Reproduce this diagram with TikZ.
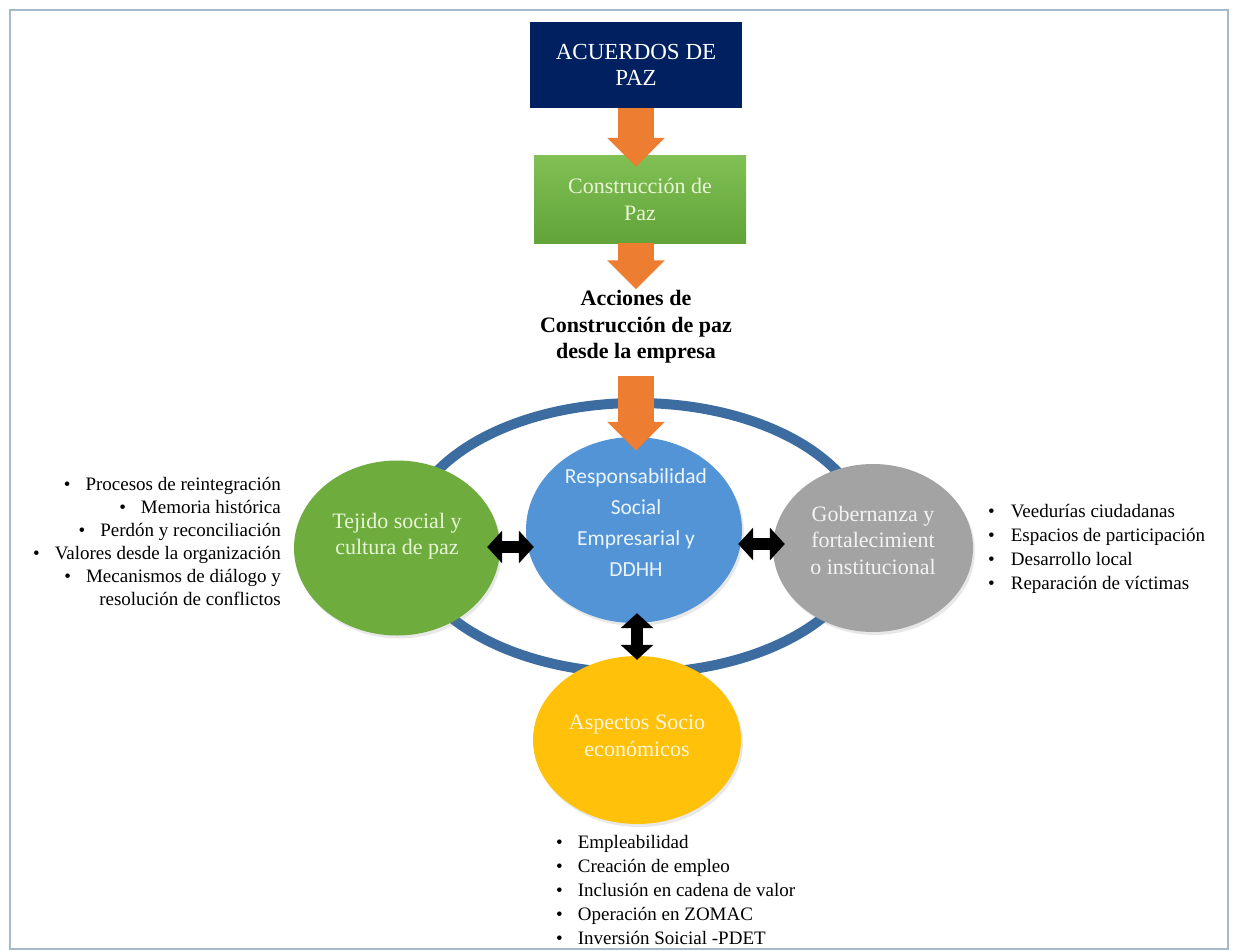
\documentclass[tikz,border=0pt]{standalone}
\usepackage{fontspec}
\setmainfont{Liberation Serif}
\newfontfamily\calib{Carlito}
\usetikzlibrary{shapes.geometric,arrows.meta,calc,shadows}
\definecolor{navy}{RGB}{0,32,96}
\definecolor{boxgreenA}{RGB}{128,192,84}
\definecolor{boxgreenB}{RGB}{98,163,58}
\definecolor{orangeA}{RGB}{237,125,49}
\definecolor{ringblue}{RGB}{60,108,160}
\definecolor{circblue}{RGB}{82,148,214}
\definecolor{circgreen}{RGB}{110,172,62}
\definecolor{circgrey}{RGB}{163,163,163}
\definecolor{circyellow}{RGB}{255,193,10}
\definecolor{framec}{RGB}{165,185,205}
\definecolor{lgtext}{RGB}{232,246,215}
\definecolor{bltext}{RGB}{236,244,253}
\definecolor{grtext}{RGB}{243,243,243}
\definecolor{yltext}{RGB}{255,246,222}
\begin{document}
\begin{tikzpicture}[x=1pt,y=-1pt,
  topbox/.style={rectangle,inner sep=0pt,minimum width=212pt},
  circ/.style={ellipse,inner sep=0pt,draw=none,
     drop shadow={opacity=0.18,shadow xshift=2pt,shadow yshift=-3pt}},
  ctext/.style={align=center,font=\fontsize{22}{26.5}\selectfont,inner sep=0pt},
  orangearrow/.style={draw=orangeA,line width=36pt,
     -{Triangle[length=29pt,width=56pt]}},
  dblarrow/.style={draw=black,line width=12pt,
     {Triangle[length=15pt,width=32pt]}-{Triangle[length=15pt,width=32pt]}},
  litem/.style={inner sep=0pt,font=\fontsize{19}{23}\selectfont}
]
\useasboundingbox (0,0) rectangle (1236,950);
\fill[white] (0,0) rectangle (1236,950);
\draw[framec,line width=1.6pt] (10,10) rectangle (1228,949);

% top boxes
\node[topbox,minimum height=86pt,fill=navy,text=white,align=center,
  font=\fontsize{23}{26}\selectfont] (acuerdos) at (636,65) {ACUERDOS DE\\PAZ};
\node[topbox,minimum height=88pt,top color=boxgreenA,bottom color=boxgreenB,
  text=lgtext,align=center,font=\fontsize{22}{27}\selectfont]
  (construccion) at (640,199) {Construcción de\\Paz};
\node[align=center,inner sep=0pt,font=\bfseries\fontsize{22}{26.5}\selectfont]
  (acciones) at (636,327) {Acciones de\\Construcción de paz\\desde la empresa};

% ring
\draw[ringblue,line width=10pt] (637,538) ellipse [x radius=230, y radius=135];

% circles
\node[circ,fill=circgreen,minimum width=206pt,minimum height=175pt] (tejido) at (397,548) {};
\node[circ,fill=circgrey,minimum width=200pt,minimum height=168pt] (gober) at (873,548) {};
\node[circ,fill=circyellow,minimum width=208pt,minimum height=168pt] (aspectos) at (637,740) {};
\node[circ,fill=circblue,minimum width=216pt,minimum height=186pt] (rse) at (634,530) {};

\node[ctext,text=lgtext] (tejidot) at (397,536) {Tejido social y\\cultura de paz};
\node[ctext,text=grtext] (gobert) at (873,540) {Gobernanza y\\fortalecimient\\o institucional};
\node[ctext,text=yltext] (aspectost) at (637,736) {Aspectos Socio\\económicos};
\node[align=center,inner sep=0pt,text=bltext,font=\calib\fontsize{21.5}{31}\selectfont]
  (rset) at (636,523) {Responsabilidad\\Social\\Empresarial y\\DDHH};

% double arrows
\draw[dblarrow] ($(tejido.east)+(-13,-1)$) -- ($(rse.west |- tejido.east)+(8,-1)$);
\draw[dblarrow] ($(rse.east |- gober.west)+(-4,-4)$) -- ($(gober.west)+(12,-4)$);
\draw[dblarrow] ($(aspectos.north |- rse.south)+(0,-10)$) -- ($(aspectos.north)+(0,4)$);

% orange arrows
\draw[orangearrow] (acuerdos.south) -- ($(acuerdos.south |- construccion.north)+(0,12)$);
\draw[orangearrow] (construccion.south -| acuerdos.south) -- ($(acuerdos.south |- acciones.north)+(0,-1)$);
\draw[orangearrow,shorten <=12pt] (acciones.south) -- ($(acciones.south |- rse.north)+(0,14)$);

% left list
\node[litem,anchor=base east] (l1) at (281,490) {\textbullet\hspace{15pt}Procesos de reintegración};
\node[litem,anchor=base east] (l2) at (281,513) {\textbullet\hspace{15pt}Memoria histórica};
\node[litem,anchor=base east] (l3) at (281,536) {\textbullet\hspace{15pt}Perdón y reconciliación};
\node[litem,anchor=base east] (l4) at (281,559) {\textbullet\hspace{15pt}Valores desde la organización};
\node[litem,anchor=base east] (l5) at (281,582) {\textbullet\hspace{15pt}Mecanismos de diálogo y};
\node[litem,anchor=base east] (l6) at (281,605) {resolución de conflictos};

% right list
\node[litem,anchor=base west] (r1) at (988,517) {\textbullet\hspace{16pt}Veedurías ciudadanas};
\node[litem,anchor=base west] (r2) at (988,541) {\textbullet\hspace{16pt}Espacios de participación};
\node[litem,anchor=base west] (r3) at (988,565) {\textbullet\hspace{16pt}Desarrollo local};
\node[litem,anchor=base west] (r4) at (988,589) {\textbullet\hspace{16pt}Reparación de víctimas};

% bottom list
\node[litem,anchor=base west] (b1) at (556,848) {\textbullet\hspace{15pt}Empleabilidad};
\node[litem,anchor=base west] (b2) at (556,872) {\textbullet\hspace{15pt}Creación de empleo};
\node[litem,anchor=base west] (b3) at (556,896) {\textbullet\hspace{15pt}Inclusión en cadena de valor};
\node[litem,anchor=base west] (b4) at (556,920) {\textbullet\hspace{15pt}Operación en ZOMAC};
\node[litem,anchor=base west] (b5) at (556,944) {\textbullet\hspace{15pt}Inversión Soicial -PDET};
\end{tikzpicture}
\end{document}
